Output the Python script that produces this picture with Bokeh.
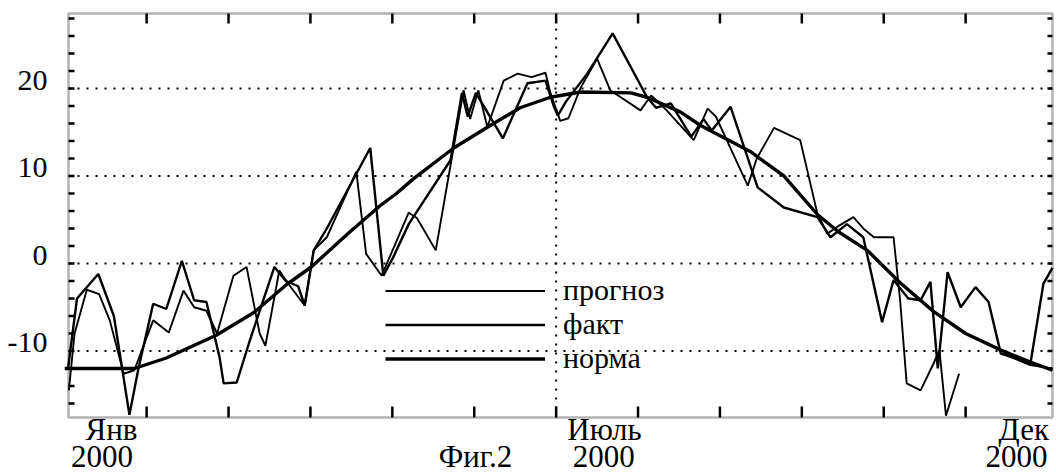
from bokeh.plotting import figure
from bokeh.models import Range1d, Legend, LegendItem, BoxAnnotation
from bokeh.core.properties import value
from bokeh.embed import file_html
from bokeh.resources import INLINE

NAN = float("nan")

# x in months from 1 Jan 2000 (0 = start of January, 12 = end of December)
month_ticks = [1, 2, 3, 4, 5, 6, 7, 8, 9, 10, 11]
y_label_vals = [-10, 0, 10, 20]
y_labels = ["-10", "0", "10", "20"]
y_minor = list(range(-16, 29, 2))
july = [6]
# captions under the frame: text, month position, text line
x_texts = ["Янв", "2000", "Фиг.2", "Июль", "2000", "Дек", "2000"]
x_text_pos = [0.571, 0.455, 5.016, 6.59, 6.58, 11.71, 11.62]
x_text_line = [1, 2, 2, 1, 2, 1, 2]

# норма (climatic norm)
norm_month = [0.0, 0.85, 1.24, 1.85, 2.31, 2.71, 3.01, 3.48, 3.85, 4.05, 4.26, 4.75,
              5.2, 5.56, 5.93, 6.3, 6.91, 7.11, 7.52, 7.76, 7.92, 8.37, 8.78, 9.19,
              9.45, 9.8, 10.2, 10.61, 11.0, 11.43, 11.8, 12.06]
norm_temp = [-12.0, -12.0, -10.8, -8.2, -5.6, -2.4, -0.4, 3.6, 6.6, 8.0, 9.7, 13.2,
             15.8, 17.8, 19.0, 19.6, 19.5, 19.0, 17.3, 15.8, 15.0, 12.8, 10.0, 5.6,
             3.6, 1.5, -2.2, -5.5, -8.0, -9.9, -11.3, -12.2]

# прогноз (forecast)
fc_month = [0.05, 0.12, 0.27, 0.42, 0.55, 0.72, 0.85, 1.08, 1.27, 1.45, 1.58, 1.73,
            1.86, 2.06, 2.22, 2.38, 2.45, 2.62, 2.72, 2.93, 3.04, 3.2, 3.56, 3.68,
            3.87, 4.2, 4.3, 4.53, 4.87, 4.95, 5.05, 5.16, 5.36, 5.53, 5.7, 5.87,
            5.93, 6.05, 6.15, 6.3, 6.5, 6.66, 7.03, 7.16, 7.35, 7.68, 7.85, 7.95,
            8.34, 8.45, 8.66, 8.98, 9.19, 9.31, 9.45, 9.63, 9.75, 9.88, 10.12, 10.2,
            10.28, 10.45, 10.61, 10.68, 10.76, 10.92, NAN, 11.45, 11.79, 12.06]
fc_temp = [-14.5, -8.0, -3.0, -3.5, -6.5, -12.6, -12.2, -6.5, -7.9, -3.1, -5.0, -5.4,
           -8.0, -1.4, -0.4, -8.0, -9.4, -0.8, -2.2, -4.8, 1.5, 3.0, 10.5, 1.1,
           -1.4, 5.8, 5.2, 1.5, 19.8, 16.5, 19.8, 15.6, 20.9, 21.7, 21.3, 21.8,
           19.5, 16.3, 16.6, 20.1, 23.4, 19.8, 17.5, 19.2, 17.5, 14.1, 17.7, 16.8,
           8.9, 12.0, 15.5, 14.1, 5.7, 3.4, 4.3, 5.3, 4.0, 3.0, 3.0, -4.2,
           -13.7, -14.5, -11.4, -9.9, -17.4, -12.6, NAN, -10.3, -11.6, -12.0]

# факт (actual)
fa_month = [0.04, 0.15, 0.41, 0.6, 0.79, 0.9, 1.08, 1.24, 1.43, 1.58, 1.73, 1.89,
            1.94, 2.1, 2.26, 2.56, 2.7, 2.85, 2.93, 3.04, 3.2, 3.73, 3.89, 4.01,
            4.2, 4.71, 4.85, 4.92, 5.02, 5.35, 5.65, 5.87, 5.97, 6.02, 6.12, 6.38,
            6.69, 7.11, 7.22, 7.4, 7.65, 7.8, 7.9, 8.13, 8.46, 8.78, 9.19, 9.35,
            9.55, 9.75, 9.98, 10.12, 10.3, 10.45, 10.57, 10.66, 10.78, 10.94, 11.12, 11.28,
            11.43, 11.6, 11.79, 11.95, 12.06]
fa_temp = [-12.0, -4.0, -1.2, -6.0, -17.3, -12.0, -4.6, -5.2, 0.3, -4.2, -4.4, -10.7,
           -13.7, -13.6, -8.8, -0.4, -2.0, -2.6, -4.8, 1.5, 4.0, 13.2, -1.4, 0.7,
           4.5, 11.8, 19.5, 16.8, 19.5, 14.3, 20.6, 20.9, 18.0, 16.9, 18.5, 21.7,
           26.3, 19.0, 17.8, 18.3, 14.5, 16.5, 15.2, 17.9, 8.7, 6.4, 5.3, 3.0,
           4.5, 3.0, -6.7, -1.9, -4.0, -4.2, -2.1, -12.0, -1.0, -5.0, -2.7, -4.4,
           -10.3, -10.8, -11.5, -2.3, -0.5]

FONT = "Liberation Serif"

# the drawing area (box) in chart units, and the whole canvas around it
BX0, BX1 = 0.046, 12.06      # box: January start .. December end
BY0, BY1 = -17.6, 28.57      # box: bottom .. top temperature
PX = 81.9                    # pixels per month
PY = 8.75                    # pixels per degree

p = figure(width=1056, height=475, output_backend="svg", toolbar_location=None,
           x_range=Range1d(BX0 - 68 / PX, BX0 + 988 / PX),
           y_range=Range1d(BY0 - 58 / PY, BY1 + 13 / PY),
           x_axis_type=None, y_axis_type=None,
           min_border_left=0, min_border_right=0, min_border_top=0, min_border_bottom=0)
p.outline_line_color = None
p.grid.visible = False
p.background_fill_color = "white"
p.border_fill_color = "white"

# dotted grid lines inside the box
n = len(y_label_vals)
p.segment(x0=[BX0] * n, y0=y_label_vals, x1=[BX1] * n, y1=y_label_vals,
          line_color="black", line_width=2, line_dash="2 7")
p.segment(x0=july, y0=[BY0], x1=july, y1=[BY1],
          line_color="black", line_width=2, line_dash="2 7")

# inward tick marks
m = len(month_ticks)
p.segment(x0=month_ticks, y0=[BY1] * m, x1=month_ticks, y1=[BY1 - 10 / PY] * m,
          line_color="black", line_width=2.5)
p.segment(x0=month_ticks, y0=[BY0] * m, x1=month_ticks, y1=[BY0 + 11 / PY] * m,
          line_color="black", line_width=2.5)
k = len(y_minor)
p.segment(x0=[BX0] * k, y0=y_minor, x1=[BX0 + 6 / PX] * k, y1=y_minor,
          line_color="black", line_width=2.5)
p.segment(x0=[BX1] * k, y0=y_minor, x1=[BX1 - 5 / PX] * k, y1=y_minor,
          line_color="black", line_width=2.5)

# frame
p.add_layout(BoxAnnotation(left=BX0, right=BX1, bottom=BY0, top=BY1,
                           fill_alpha=0, line_color="black", line_width=2.5))

# y tick labels (a little above each grid line, as in the original)
p.text(x=[BX0 - 21 / PX] * n, y=[v + 8 / PY for v in y_label_vals], text=y_labels,
       text_align="right", text_baseline="middle",
       text_font=value(FONT), text_font_size="30px", text_color="black")

# captions under the box (centres of the two text lines, 429 and 456 px from the top)
line_center = {1: BY1 - (429 - 13) / PY, 2: BY1 - (456 - 13) / PY}
p.text(x=x_text_pos, y=[line_center[l] for l in x_text_line], text=x_texts,
       text_align="center", text_baseline="middle",
       text_font=value(FONT), text_font_size="31px", text_color="black")

r_fc = p.line(fc_month, fc_temp, line_color="black", line_width=1.9)
r_fa = p.line(fa_month, fa_temp, line_color="black", line_width=2.4)
r_no = p.line(norm_month, norm_temp, line_color="black", line_width=3.4)

legend = Legend(items=[LegendItem(label="прогноз", renderers=[r_fc]),
                       LegendItem(label="факт", renderers=[r_fa]),
                       LegendItem(label="норма", renderers=[r_no])],
                location=(385, 100), orientation="vertical",
                glyph_width=160, glyph_height=33, label_height=33, spacing=0,
                padding=0, margin=0, label_standoff=18,
                label_text_font=FONT, label_text_font_size="30px", label_text_color="black",
                background_fill_alpha=0, border_line_color=None)
p.add_layout(legend)

open("out.html", "w").write(file_html(p, INLINE))
